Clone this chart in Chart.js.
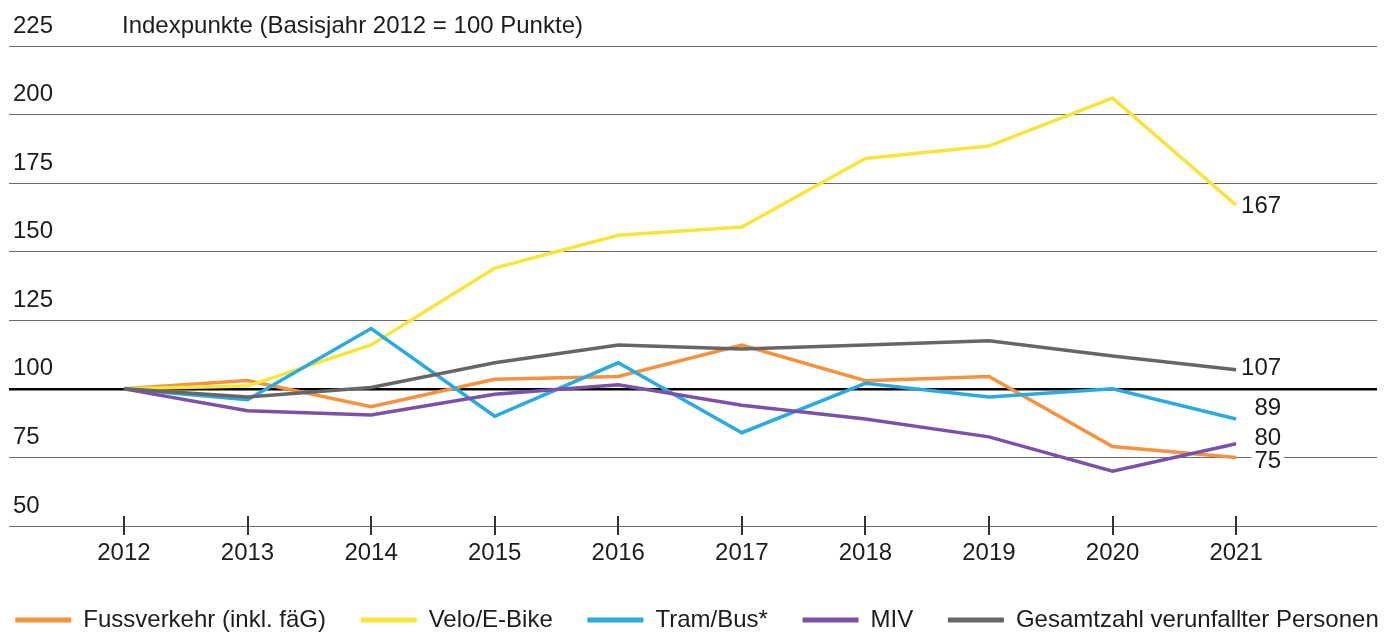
<!DOCTYPE html>
<html lang="de">
<head>
<meta charset="utf-8">
<script src="https://cdn.jsdelivr.net/npm/chart.js@4.4.1/dist/chart.umd.min.js"></script>
<style>
  html, body { margin: 0; padding: 0; background: #fff; }
  #wrap { width: 1394px; height: 632px; position: relative; }
</style>
</head>
<body>
<div id="wrap"><canvas id="chart"></canvas></div>
<script>
// --- DATEN (Indexpunkte, 2012 = 100) ---
const years = [2012, 2013, 2014, 2015, 2016, 2017, 2018, 2019, 2020, 2021];
const fussverkehr = [100, 103, 93.5, 103.5, 104.5, 116, 103, 104.5, 79, 75];
const velo = [100, 101, 116, 144, 156, 159, 184, 188.5, 206, 167];
const tramBus = [100, 96, 122, 90, 109.5, 84, 102, 97, 100, 89];
const miv = [100, 92, 90.5, 98, 101.5, 94, 89, 82.5, 70, 80];
const gesamt = [100, 97, 100.5, 109.5, 116, 114.5, 116, 117.5, 112, 107];

const seriesNames = ['Fussverkehr (inkl. fäG)', 'Velo/E-Bike', 'Tram/Bus*', 'MIV', 'Gesamtzahl verunfallter Personen'];
const yTicks = [50, 75, 100, 125, 150, 175, 200, 225];
const axisTitle = 'Indexpunkte (Basisjahr 2012 = 100 Punkte)';

// --- STIL ---
const FONT = "'Liberation Sans', Arial, Helvetica, sans-serif";
const TEXT = '#1d1d1b';
const colors = ['#f5923e', '#f6e63c', '#29abe2', '#7b52a8', '#666666'];
// vertikale Verschiebung der Endwerte (px), damit sie sich nicht überlappen
const endLabelShift = [3.5, 1, -11, -5.5, -1];

Chart.defaults.font.family = FONT;
Chart.defaults.font.size = 24;
Chart.defaults.color = TEXT;

const allSeries = [fussverkehr, velo, tramBus, miv, gesamt];

const datasets = allSeries.map((vals, i) => ({
    label: seriesNames[i],
    data: years.map((yr, k) => ({ x: yr, y: vals[k] })),
    borderColor: colors[i],
    backgroundColor: colors[i],
    borderWidth: 3.5,
    pointRadius: 0,
    tension: 0,
    order: allSeries.length - i // spätere Serien oben
}));

// Titel neben der obersten Achsenbeschriftung
const axisTitlePlugin = {
    id: 'axisTitle',
    afterDraw(chart) {
        const { ctx, chartArea, scales } = chart;
        const yTop = scales.y.getPixelForValue(yTicks[yTicks.length - 1]) - 20;
        ctx.save();
        ctx.font = '24px ' + FONT;
        ctx.fillStyle = TEXT;
        ctx.textAlign = 'left';
        ctx.textBaseline = 'middle';
        ctx.fillText(axisTitle, chartArea.left + 113, yTop);
        ctx.restore();
    }
};

// Teilstriche, die über die Grundlinie hinausragen
const tickMarksPlugin = {
    id: 'tickMarks',
    afterDatasetsDraw(chart) {
        const { ctx, scales: { x, y } } = chart;
        const base = y.getPixelForValue(yTicks[0]);
        ctx.save();
        ctx.strokeStyle = '#333';
        ctx.lineWidth = 2;
        years.forEach(yr => {
            const px = Math.round(x.getPixelForValue(yr));
            ctx.beginPath();
            ctx.moveTo(px, base - 10);
            ctx.lineTo(px, base + 9);
            ctx.stroke();
        });
        ctx.restore();
    }
};

// Endwerte rechts neben den Linien
const endLabelsPlugin = {
    id: 'endLabels',
    afterDatasetsDraw(chart) {
        const ctx = chart.ctx;
        ctx.save();
        ctx.font = '24px ' + FONT;
        ctx.textAlign = 'right';
        ctx.textBaseline = 'middle';
        chart.data.datasets.forEach((ds, i) => {
            const meta = chart.getDatasetMeta(i);
            const pt = meta.data[meta.data.length - 1];
            const txt = String(Math.round(ds.data[ds.data.length - 1].y));
            const xr = pt.x + 45;
            const yc = pt.y + endLabelShift[i];
            const w = ctx.measureText(txt).width;
            ctx.fillStyle = '#fff';
            ctx.fillRect(xr - w - 3, yc - 9, w + 6, 18);
            ctx.fillStyle = TEXT;
            ctx.fillText(txt, xr, yc);
        });
        ctx.restore();
    }
};

const GAP = '\u00a0\u00a0\u00a0\u00a0'; // Abstand zwischen Legendeneinträgen

new Chart(document.getElementById('chart'), {
    type: 'line',
    data: { datasets },
    plugins: [axisTitlePlugin, tickMarksPlugin, endLabelsPlugin],
    options: {
        responsive: true,
        maintainAspectRatio: false,
        animation: false,
        devicePixelRatio: 1,
        layout: { padding: { top: 46, left: 0, right: 0, bottom: -10 } },
        plugins: {
            tooltip: { enabled: false },
            legend: {
                position: 'bottom',
                labels: {
                    boxWidth: 56,
                    boxHeight: 5,
                    padding: 8,
                    color: TEXT,
                    font: { size: 24 },
                    sort: (a, b) => a.datasetIndex - b.datasetIndex,
                    generateLabels: chart =>
                        Chart.defaults.plugins.legend.labels.generateLabels(chart).map(item => ({
                            ...item,
                            text: item.datasetIndex < seriesNames.length - 1 ? item.text + GAP : item.text,
                            fillStyle: item.strokeStyle,
                            lineWidth: 0
                        }))
                }
            }
        },
        scales: {
            x: {
                type: 'linear',
                min: 2011.07,
                max: 2022.14,
                afterBuildTicks: scale => { scale.ticks = years.map(v => ({ value: v })); },
                afterFit: scale => { scale.height = 74; },
                grid: { display: false, drawTicks: false },
                border: { display: false },
                ticks: {
                    padding: 13,
                    color: TEXT,
                    font: { size: 24 },
                    callback: v => String(v)
                }
            },
            y: {
                min: yTicks[0],
                max: yTicks[yTicks.length - 1],
                afterBuildTicks: scale => { scale.ticks = yTicks.map(v => ({ value: v })); },
                afterFit: scale => { scale.width = 9; },
                border: { display: false },
                grid: {
                    drawTicks: false,
                    color: ctx => ctx.tick && ctx.tick.value === 100 ? '#000' : '#6b6b6b',
                    lineWidth: ctx => ctx.tick && ctx.tick.value === 100 ? 2.5 : 1
                },
                ticks: {
                    mirror: true,
                    padding: 4,
                    labelOffset: -20,
                    color: TEXT,
                    font: { size: 24 }
                }
            },
            // leere Achse rechts, hält den Rand frei
            yRight: {
                position: 'right',
                afterFit: scale => { scale.width = 17; },
                grid: { display: false },
                border: { display: false },
                ticks: { display: false }
            }
        }
    }
});
</script>
</body>
</html>
